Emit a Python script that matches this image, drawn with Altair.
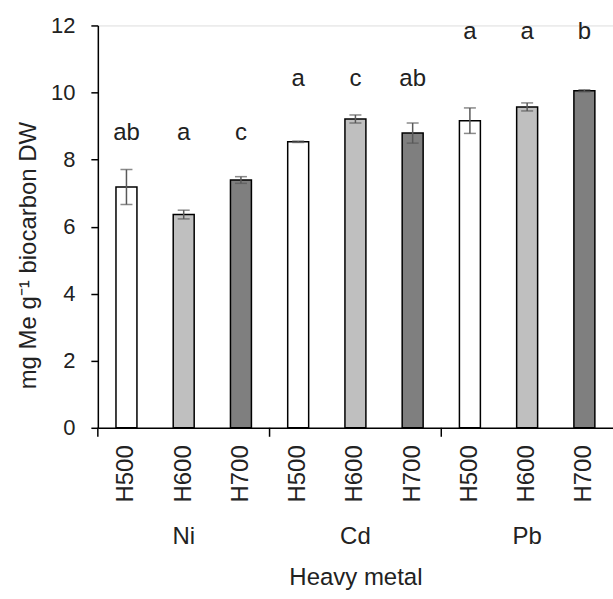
import altair as alt
import pandas as pd

metals = ["Ni", "Cd", "Pb"]
temps = ["H500", "H600", "H700"]
means = [7.18, 6.36, 7.39, 8.53, 9.21, 8.79, 9.16, 9.57, 10.05]
errors = [0.52, 0.13, 0.10, 0.02, 0.12, 0.30, 0.38, 0.12, 0.03]
letters = ["ab", "a", "c", "a", "c", "ab", "a", "a", "b"]
letter_heights = [8.8, 8.8, 8.8, 10.4, 10.4, 10.4, 11.8, 11.8, 11.8]
temp_colors = ["#ffffff", "#bfbfbf", "#7f7f7f"]

rows = []
i = 0
for m in metals:
    for t in temps:
        rows.append({
            "key": f"{m}|{t}", "metal": m, "temp": t,
            "mean": means[i], "lo": means[i] - errors[i], "hi": means[i] + errors[i],
            "letter": letters[i], "lh": letter_heights[i],
        })
        i += 1
df = pd.DataFrame(rows)
keys = list(df["key"])
groups = pd.DataFrame({"metal": metals, "key": [f"{m}|H600" for m in metals],
                       "start": [f"{m}|H500" for m in metals]})

FONT = "Liberation Sans"
W, H = 516, 403

xscale = alt.Scale(domain=keys, paddingInner=0, paddingOuter=0)
x = alt.X("key:N", scale=xscale, sort=keys,
          axis=alt.Axis(title="Heavy metal", labelExpr="split(datum.label, '|')[1]",
                        labelAngle=270, ticks=False, labelPadding=17,
                        labelFontSize=24, titleFontSize=24, titleFontWeight="normal",
                        titlePadding=64, domainColor="black", domainWidth=1.5,
                        labelColor="#222222", titleColor="#222222", labelFont=FONT, titleFont=FONT))
yscale = alt.Scale(domain=[0, 12], nice=False)
y = alt.Y("mean:Q", scale=yscale,
          axis=alt.Axis(title="mg Me g⁻¹ biocarbon DW", values=[0, 2, 4, 6, 8, 10, 12],
                        grid=False, tickSize=7, tickColor="black", tickWidth=1.5,
                        domainColor="black", domainWidth=1.5, labelFontSize=22,
                        labelPadding=16, titleFontSize=24, titleFontWeight="normal",
                        titlePadding=10, titleY=230,
                        labelColor="#222222", titleColor="#222222",
                        labelFont=FONT, titleFont=FONT))

base = alt.Chart(df)
bars = base.mark_bar(width=21, stroke="black", strokeWidth=1.5).encode(
    x=x, y=y,
    fill=alt.Fill("temp:N", scale=alt.Scale(domain=temps, range=temp_colors), legend=None),
)
err = base.mark_rule(color="#595959", strokeWidth=1.5).encode(
    x=alt.X("key:N", scale=xscale, sort=keys), y=alt.Y("lo:Q", scale=yscale), y2="hi:Q")
cap_hi = base.mark_tick(color="#595959", size=12, thickness=1.5).encode(
    x=alt.X("key:N", scale=xscale, sort=keys), y=alt.Y("hi:Q", scale=yscale))
cap_lo = base.mark_tick(color="#595959", size=12, thickness=1.5).encode(
    x=alt.X("key:N", scale=xscale, sort=keys), y=alt.Y("lo:Q", scale=yscale))
txt = base.mark_text(fontSize=24, font=FONT, color="#222222", baseline="middle").encode(
    x=alt.X("key:N", scale=xscale, sort=keys), y=alt.Y("lh:Q", scale=yscale), text="letter:N")

sep = alt.Chart(groups).mark_rule(color="black", strokeWidth=1.5).encode(
    x=alt.X("start:N", scale=xscale, sort=keys, bandPosition=0),
    y=alt.value(H), y2=alt.value(H + 9))
glabels = alt.Chart(groups).mark_text(fontSize=24, font=FONT, color="#222222", baseline="middle").encode(
    x=alt.X("key:N", scale=xscale, sort=keys), y=alt.value(H + 109), text="metal:N")

chart = alt.layer(bars, err, cap_hi, cap_lo, txt, sep, glabels).properties(
    width=W, height=H, autosize="none",
    padding={"left": 98, "top": 25, "right": 0, "bottom": 171},
).configure_view(stroke=None).configure(background="white")

chart.save("out.html", embed_options={"renderer": "svg", "actions": False})
